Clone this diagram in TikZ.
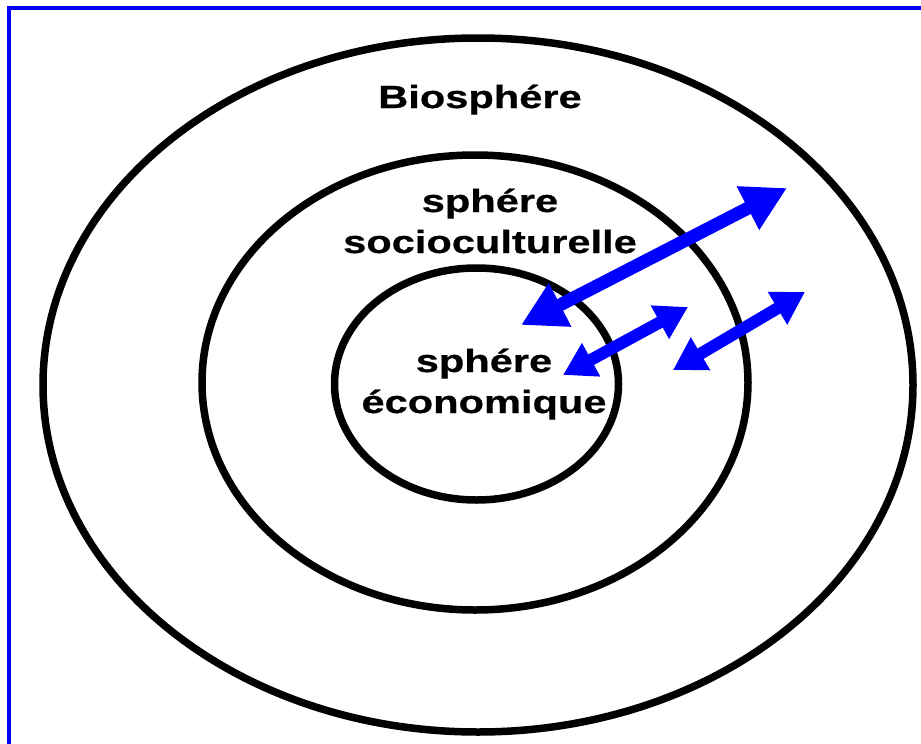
\documentclass[tikz,border=0pt]{standalone}
\usepackage{fontspec}
\newfontfamily\widesans[FakeStretch=1.3,FakeBold=0.6]{Liberation Sans Bold}
\usetikzlibrary{arrows.meta}
\definecolor{pureblue}{RGB}{0,0,255}
\tikzset{
  sphereline/.style={draw=black, line width=7.5pt},
  framestyle/.style={draw=pureblue, line width=4pt},
  label/.style={font=\widesans\fontsize{32}{41}\selectfont, align=center, inner sep=0pt, text=black},
  bigarrow/.style={draw=pureblue, line width=13pt,
    {Triangle[length=44pt,width=46pt]}-{Triangle[length=44pt,width=46pt]}},
  smallarrow/.style={draw=pureblue, line width=12pt,
    {Triangle[length=32pt,width=36pt]}-{Triangle[length=32pt,width=36pt]}}
}
\begin{document}
\begin{tikzpicture}[x=1pt,y=-1pt]
\useasboundingbox (0,0) rectangle (921,744);
\fill[white] (0,0) rectangle (921,744);
% frame (only left and top edges visible)
\coordinate (fbl) at (9,744);
\coordinate (ftl) at (9,8);
\coordinate (ftr) at (921,8);
\draw[framestyle] (fbl) -- (ftl) -- (ftr);
% spheres
\coordinate (outer) at (478,385);
\coordinate (middle) at (475,382.5);
\coordinate (inner) at (476.5,384);
\draw[sphereline] (outer) ellipse [x radius=435, y radius=347];
\draw[sphereline] (middle) ellipse [x radius=273, y radius=227.5];
\draw[sphereline] (inner) ellipse [x radius=142, y radius=116];
% labels
\node[label, anchor=base] (bio) at (480,108) {Biosphére};
\node[label, anchor=base] (soc) at (490,253) {sphére\\socioculturelle};
\node[label, anchor=base] (eco) at (484,413) {sphére\\économique};
% arrows
\coordinate (a1s) at (521,325);
\coordinate (a1e) at (787,188);
\coordinate (a2s) at (563,375);
\coordinate (a2e) at (688,307);
\coordinate (a3s) at (673,370);
\coordinate (a3e) at (805,292);
\draw[bigarrow] (a1s) -- (a1e);
\draw[smallarrow] (a2s) -- (a2e);
\draw[smallarrow] (a3s) -- (a3e);
\end{tikzpicture}
\end{document}
